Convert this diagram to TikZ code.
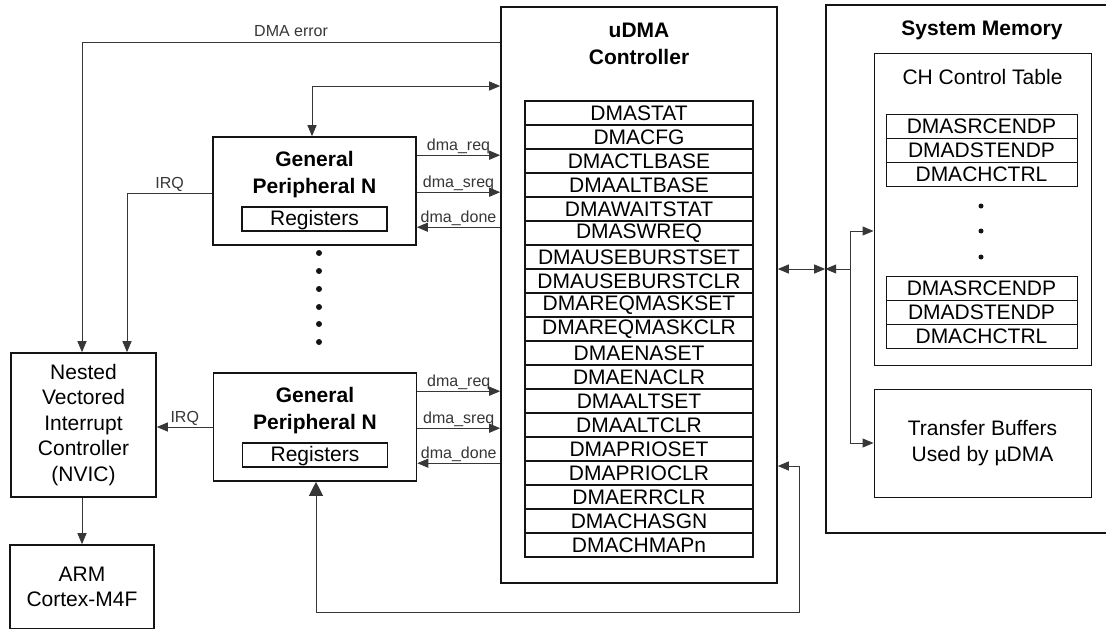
\documentclass[tikz,border=0pt]{standalone}
\usepackage{fontspec}
\setmainfont{Liberation Sans}
\usepackage{tikz}
\usetikzlibrary{arrows.meta, positioning, calc}
\definecolor{mydark}{RGB}{20,20,20}
\definecolor{mywire}{RGB}{55,55,55}
\tikzset{
  block/.style={rectangle, draw=mydark, line width=1.6pt, align=center,
    inner sep=0pt, font=\fontsize{21}{25.5}\selectfont},
  subblock/.style={rectangle, draw=mydark, line width=1pt, align=center,
    inner sep=0pt, font=\fontsize{21}{26}\selectfont},
  regrow/.style={rectangle, draw=mydark, line width=1.4pt, inner sep=0pt,
    minimum width=228pt, minimum height=24pt, font=\fontsize{21}{24}\selectfont},
  memrow/.style={rectangle, draw=mydark, line width=1pt, inner sep=0pt,
    minimum width=191pt, minimum height=24pt, font=\fontsize{21}{24}\selectfont},
  boxtitle/.style={align=center, inner sep=0pt, font=\bfseries\fontsize{21}{27}\selectfont},
  sig/.style={inner sep=0.5pt, text depth=3.5pt, font=\fontsize{16}{18}\selectfont},
  vdot/.style={circle, fill=mydark, minimum size=6pt, inner sep=0pt},
  arrow/.style={-{Triangle[length=11pt, width=9pt]}, line width=1pt, color=mywire},
  dblarrow/.style={{Triangle[length=11pt, width=9pt]}-{Triangle[length=11pt, width=9pt]},
    line width=1pt, color=mywire}
}

\begin{document}
\begin{tikzpicture}[x=1pt, y=-1pt]
  \useasboundingbox (0,0) rectangle (1106,629);
  \fill[white] (0,0) rectangle (1106,629);
  \clip (0,0) rectangle (1106,629);

  % uDMA controller with its register file
  \node[block, minimum width=276pt, minimum height=576pt] (udma) at (639,295) {};
  \node[boxtitle] (udmatitle) at (639,44) {uDMA\\Controller};
  \foreach \reg [count=\i from 0] in {DMASTAT, DMACFG, DMACTLBASE, DMAALTBASE,
      DMAWAITSTAT, DMASWREQ, DMAUSEBURSTSET, DMAUSEBURSTCLR, DMAREQMASKSET,
      DMAREQMASKCLR, DMAENASET, DMAENACLR, DMAALTSET, DMAALTCLR, DMAPRIOSET,
      DMAPRIOCLR, DMAERRCLR, DMACHASGN, DMACHMAPn}
    \node[regrow] (reg\i) at (639,113+24*\i) {\reg};

  % peripherals
  \node[block, minimum width=203pt, minimum height=108pt] (p1) at (314.5,191) {};
  \node[block, minimum width=203pt, minimum height=108pt] (p2) at (315,427) {};
  \foreach \p in {p1,p2} {
    \node[boxtitle] (title\p) at ($(\p.north)+(0,38)$) {General\\Peripheral N};
    \node[subblock, line width=1.4pt, minimum width=145pt, minimum height=24pt,
      text depth=2pt, above=14pt of \p.south] (regs\p) {Registers};
  }
  \foreach \y in {253,271,289,307,324,342}
    \node[vdot] (pdot\y) at (319,\y) {};

  % interrupt controller and CPU
  \node[block, minimum width=145pt, minimum height=144pt] (nvic) at (83.5,425)
    {Nested\\Vectored\\Interrupt\\Controller\\(NVIC)};
  \node[block, minimum width=144pt, minimum height=84pt] (arm) at (82,587)
    {ARM\\Cortex-M4F};

  % system memory
  \node[block, minimum width=316pt, minimum height=528pt] (sysmem) at (984,269) {};
  \node[boxtitle] (memtitle) at (982,30) {System Memory};
  \node[subblock, minimum width=217pt, minimum height=312pt] (chtab) at (982.5,209) {};
  \node[inner sep=0pt, font=\fontsize{21}{26}\selectfont] (chtitle) at (982.5,77) {CH Control Table};
  \foreach \name/\y [count=\i] in {DMASRCENDP/126, DMADSTENDP/150, DMACHCTRL/174,
      DMASRCENDP/288, DMADSTENDP/312, DMACHCTRL/336}
    \node[memrow] (memrow\i) at (981.5,\y) {\name};
  \foreach \y in {206,231,257}
    \node[vdot, minimum size=5pt] (chdot\y) at (981,\y) {};
  \node[subblock, minimum width=217pt, minimum height=108pt] (trbuf) at (982.5,443)
    {Transfer Buffers\\Used by µDMA};

  % wires
  \coordinate (errx) at (82,42);
  \coordinate (irqx) at (127,193);
  \coordinate (topx) at (312,86);
  \coordinate (botx) at (316,612);
  \coordinate (retx) at (799,466);
  \coordinate (busx) at (850,269);
  \coordinate (chin) at (850,231);

  \draw[arrow] (udma.west |- errx) -- node[sig, above, inner sep=2pt] {DMA error} (errx) -- (errx |- nvic.north);
  \draw[arrow] (p1.west |- irqx) -- node[sig, above] {IRQ} (irqx) -- (irqx |- nvic.north);
  \draw[arrow] (p2.west) -- node[sig, above] {IRQ} (nvic.east |- p2.west);
  \draw[arrow] (nvic.south -| arm.north) -- (arm.north);

  \foreach \p in {p1,p2} {
    \path ($(\p.north east)+(0,19)$) coordinate (req\p)
          ($(\p.north east)+(0,56)$) coordinate (sreq\p)
          ($(\p.north east)+(0,91)$) coordinate (done\p);
    \draw[arrow] (req\p) -- node[sig, above] {dma\_req} (udma.west |- req\p);
    \draw[arrow] (sreq\p) -- node[sig, above] {dma\_sreq} (udma.west |- sreq\p);
    \draw[arrow] (udma.west |- done\p) -- node[sig, above] {dma\_done} (done\p);
  }

  \draw[dblarrow] (p1.north -| topx) -- (topx) -- (udma.west |- topx);
  \draw[{Triangle[length=14pt, width=14pt]}-{Triangle[length=11pt, width=9pt]},
    line width=1pt, color=mywire] (p2.south -| botx) -- (botx) -| (retx) -- (udma.east |- retx);

  \draw[dblarrow] (udma.east |- busx) -- (sysmem.west |- busx);
  \draw[arrow] (busx) -- (sysmem.west |- busx);
  \draw[arrow] (chin) -- (chtab.west |- chin);
  \draw[arrow] (chin) -- (chin |- trbuf.west) -- (trbuf.west);
\end{tikzpicture}
\end{document}
